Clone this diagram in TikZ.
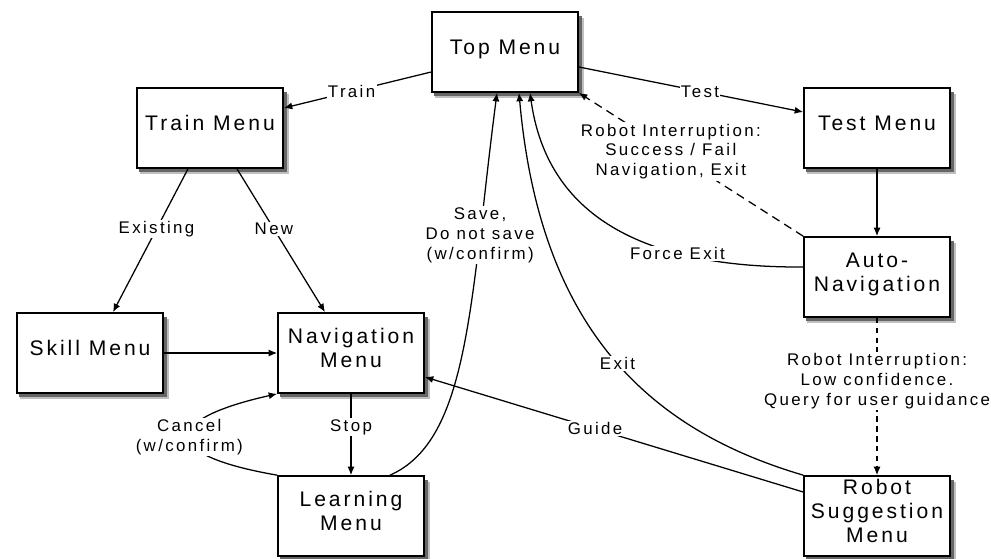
\documentclass[tikz,border=0pt]{standalone}
\usepackage{fontspec}
\setmainfont{Liberation Sans}[LetterSpace=14]
\usetikzlibrary{calc,arrows.meta}

\tikzset{
  menu/.style={draw, line width=1.2pt, fill=white, inner sep=2pt,
    minimum width=3.65cm, minimum height=2cm, align=center, text depth=7pt,
    font=\fontsize{15}{17}\selectfont},
  lbl/.style={fill=white, inner sep=1pt, align=center,
    font=\fontsize{12}{14.2}\selectfont},
  link/.style={-{Latex[length=6pt,width=5pt]}, line width=.9pt},
  longdash/.style={dash pattern=on 6pt off 4pt},
  shortdash/.style={dash pattern=on 4pt off 3pt},
}

\begin{document}
\begin{tikzpicture}[x=0.025cm, y=-0.025cm]
        \useasboundingbox (0,0) rectangle (991,558);
        % shadows under the menus
        \foreach \cx/\cy in {505/52, 210/128, 877/128, 877/277, 90/353, 351/353, 351/516, 877/516} {
          \fill[black!25] (\cx-70,\cy-34) rectangle (\cx+79,\cy+46);
          \fill[black!60] (\cx-71,\cy-36) rectangle (\cx+77,\cy+44);
        }
        % menus
        \node[menu] (top) at (505,52) {Top Menu};
        \node[menu] (train) at (210,128) {Train Menu};
        \node[menu] (test) at (877,128) {Test Menu};
        \node[menu] (auto) at (877,277) {Auto-\\Navigation};
        \node[menu] (skill) at (90,353) {Skill Menu};
        \node[menu] (nav) at (351,353) {Navigation\\Menu};
        \node[menu] (learn) at (351,516) {Learning\\Menu};
        \node[menu] (sugg) at (877,516) {Robot\\Suggestion\\Menu};
        % transitions
        \draw[link] ($(top.west)+(0,20)$) -- node[lbl,pos=.54]{Train} ($(train.east)+(0,-20)$);
        \draw[link] ($(top.east)+(0,15)$) -- node[lbl,pos=.54]{Test} ($(test.west)+(0,-16)$);
        \draw[link] ($(train.south)+(-22,0)$) -- node[lbl,pos=.42]{Existing} ($(skill.north)+(23,0)$);
        \draw[link] ($(train.south)+(27,0)$) -- node[lbl,pos=.42]{New} ($(nav.north)+(-26,0)$);
        \draw[link] (skill) -- (nav);
        \draw[link] (test) -- (auto);
        \draw[link] (nav) -- node[lbl,pos=.41]{Stop} (learn);
        \draw[link] (learn.north west) .. controls (160,455) and (160,420) .. node[lbl]{Cancel\\(w/confirm)} (nav.south west);
        \draw[link] ($(learn.north)+(39,0)$) .. controls (470,440) and (470,300) .. node[lbl,pos=.75]{Save,\\Do not save\\(w/confirm)} ($(top.south)+(-8,0)$);
        % robot side
        \draw[link,longdash] (auto.north west) -- node[lbl,pos=.59]{Robot Interruption:\\Success / Fail\\Navigation, Exit} (top.south east);
        \draw[link] ($(auto.west)+(0,-10)$) .. controls (620,268) and (545,200) .. node[lbl,pos=.27]{Force Exit} ($(top.south)+(25,0)$);
        \draw[link] (sugg.north west) .. controls (650,430) and (540,330) .. node[lbl,pos=.48]{Exit} ($(top.south)+(14,0)$);
        \draw[link] ($(sugg.west)+(0,-24)$) -- node[lbl,pos=.55]{Guide} ($(nav.east)+(0,24)$);
        \draw[link,shortdash] (auto) -- node[lbl,pos=.4]{Robot Interruption:\\Low confidence.\\Query for user guidance} (sugg);
\end{tikzpicture}
\end{document}
